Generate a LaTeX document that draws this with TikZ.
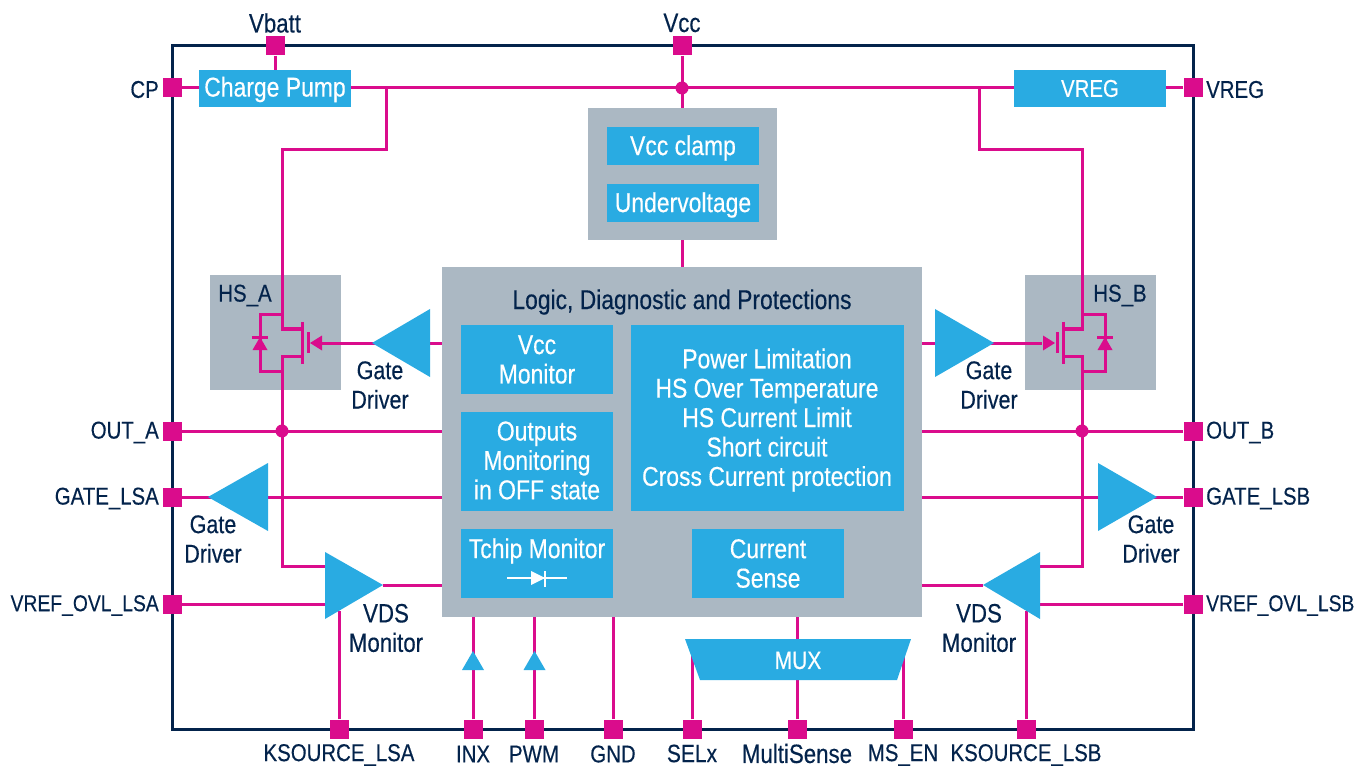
\documentclass[tikz,border=0pt]{standalone}
\usepackage{fontspec}
\setmainfont[FakeStretch=0.84,FakeBold=0.35]{Liberation Sans}
\definecolor{mag}{HTML}{DA0C8C}
\definecolor{cyanb}{HTML}{29ABE2}
\definecolor{greyb}{HTML}{ABB8C3}
\definecolor{navyb}{HTML}{03234B}
\tikzset{
 wire/.style={draw=mag,line width=3pt},
 thinw/.style={draw=mag,line width=3pt},
 bluebox/.style={fill=cyanb,text=white,inner sep=0pt,align=center,font=\fontsize{27.3}{29.4}\selectfont},
 bluetext/.style={text=white,inner sep=0pt,align=center,font=\fontsize{27.3}{29.4}\selectfont},
 greybox/.style={fill=greyb,inner sep=0pt},
 pinbox/.style={fill=mag,minimum width=19pt,minimum height=19pt,inner sep=0pt},
 lbl/.style={text=navyb,inner sep=0pt,align=center,font=\fontsize{26.5}{29.4}\selectfont},
 gatelbl/.style={text=navyb,inner sep=0pt,align=center,font=\fontsize{25.6}{29.4}\selectfont},
 caplbl/.style={text=navyb,inner sep=0pt,align=center,yshift=-1.5pt,font=\fontsize{24.3}{29.4}\selectfont},
 reflbl/.style={text=navyb,inner sep=0pt,align=center,yshift=-1.5pt,font=\fontsize{23}{29.4}\selectfont},
 dotn/.style={circle,fill=mag,minimum size=13pt,inner sep=0pt},
 tri/.style={fill=cyanb},
 mag tri/.style={fill=mag}
}
\begin{document}
\begin{tikzpicture}[x=1pt,y=-1pt]
\useasboundingbox (0,0) rectangle (1360,767);
% groups
\node[greybox,minimum width=189pt,minimum height=132pt] (grpv) at (682.5,174) {};
\node[greybox,minimum width=480pt,minimum height=350pt] (logic) at (682,442) {};
\node[greybox,minimum width=131pt,minimum height=115pt] (hsa) at (275.5,332.5) {};
\node[greybox,minimum width=131pt,minimum height=115pt] (hsb) at (1090.5,332.5) {};
% frame
\node[draw=navyb,line width=3pt,minimum width=1021pt,minimum height=683pt,inner sep=0pt] (frame) at (682.5,387.5) {};
% pins
\node[pinbox] (pVbatt) at (275,46) {};
\node[pinbox] (pVcc) at (682,46) {};
\node[pinbox] (pCP) at (172,88) {};
\node[pinbox] (pVREG) at (1193,88) {};
\node[pinbox] (pOA) at (172,431) {};
\node[pinbox] (pOB) at (1193,431) {};
\node[pinbox] (pGA) at (172,497) {};
\node[pinbox] (pGB) at (1193,497) {};
\node[pinbox] (pRA) at (172,604) {};
\node[pinbox] (pRB) at (1193,604) {};
\node[pinbox] (pKA) at (339,729) {};
\node[pinbox] (pINX) at (473,729) {};
\node[pinbox] (pPWM) at (534,729) {};
\node[pinbox] (pGND) at (613,729) {};
\node[pinbox] (pSEL) at (692,729) {};
\node[pinbox] (pMS) at (797,729) {};
\node[pinbox] (pEN) at (903,729) {};
\node[pinbox] (pKB) at (1026,729) {};
% blue boxes
\node[bluebox,minimum width=152pt,minimum height=37pt] (pump) at (275,88.5) {};
\node[bluetext] (pumpt) at (275,89.5) {Charge Pump};
\node[bluebox,minimum width=152pt,minimum height=37pt,font=\fontsize{24.3}{29}\selectfont] (vreg) at (1090,88.5) {VREG};
% coordinates
\coordinate (jA) at (386,88);
\coordinate (jB) at (979,88);
\coordinate (hA) at (282,150);
\coordinate (hB) at (1082,150);
\coordinate (dA1) at (282,329);
\coordinate (dA2) at (282,356);
\coordinate (dB1) at (1082,329);
\coordinate (dB2) at (1082,356);
\coordinate (vA) at (325,566);
\coordinate (vB) at (1040,566);
\coordinate (tgA) at (372,343);
\coordinate (tgB) at (994,343);
\coordinate (tlA) at (208,497);
\coordinate (tlB) at (1157,497);
\coordinate (tvA) at (383,585);
\coordinate (tvB) at (983,585);
\coordinate (rA) at (325,604);
\coordinate (rB) at (1040,604);
\coordinate (kA) at (339,611);
\coordinate (kB) at (1026,611);
\coordinate (sEL) at (692,655);
\coordinate (eN) at (903,655);
\node[dotn] (dotV) at (682,88) {};
\node[dotn] (dotA) at (282,431) {};
\node[dotn] (dotB) at (1082,431) {};
% wires
\draw[wire] (pVbatt) -- (pump.north -| pVbatt);
\draw[wire] (pCP) -- (pump.west |- pCP);
\draw[wire] (pVREG) -- (vreg.east |- pVREG);
\draw[wire] (pump.east |- jA) -- (vreg.west |- jA);
\draw[wire] (pVcc) -- (grpv.north -| pVcc);
\draw[wire] (grpv.south -| pVcc) -- (logic.north -| pVcc);
\draw[wire] (jA) |- (hA) -- (dA1) -- (302,329);
\draw[wire] (jB) |- (hB) -- (dB1) -- (1063,329);
\draw[wire] (vA) -| (dA2) -- (302,356);
\draw[wire] (vB) -| (dB2) -- (1063,356);
\draw[wire] (pOA) -- (logic.west |- pOA);
\draw[wire] (pOB) -- (logic.east |- pOB);
\draw[wire] (pGA) -- (logic.west |- pGA);
\draw[wire] (pGB) -- (logic.east |- pGB);
\draw[wire] (pRA) -- (rA);
\draw[wire] (pRB) -- (rB);
\draw[wire] (tvA) -- (logic.west |- tvA);
\draw[wire] (tvB) -- (logic.east |- tvB);
\draw[wire] (pKA) -- (kA);
\draw[wire] (pKB) -- (kB);
\draw[wire] (pINX) -- (logic.south -| pINX);
\draw[wire] (pPWM) -- (logic.south -| pPWM);
\draw[wire] (pGND) -- (logic.south -| pGND);
\draw[wire] (pSEL) -- (sEL);
\draw[wire] (pEN) -- (eN);
\draw[wire] (pMS) -- (logic.south -| pMS);
\draw[wire] (tgA) -- (logic.west |- tgA);
\draw[wire] (tgB) -- (logic.east |- tgB);
% gate wires to MOSFETs
\draw[wire] (tgA) -- (322,343);
\draw[wire] (tgB) -- (1042,343);
% MOSFET A
\draw[thinw] (302,322) -- (302,364);
\draw[thinw] (308,332) -- (308,353);
\fill[mag tri] (310,343) -- (322,335.5) -- (322,350.5) -- cycle;
\draw[thinw] (282,315) -| (260,371) -- (282,371);
\draw[thinw] (252,337) -- (268,337);
\fill[mag tri] (260,337) -- (267.5,350) -- (252.5,350) -- cycle;
% MOSFET B
\draw[thinw] (1063,322) -- (1063,364);
\draw[thinw] (1057,332) -- (1057,353);
\fill[mag tri] (1055,343) -- (1043,335.5) -- (1043,350.5) -- cycle;
\draw[thinw] (1082,315) -| (1105,371) -- (1082,371);
\draw[thinw] (1097,337) -- (1113,337);
\fill[mag tri] (1105,337) -- (1112.5,350) -- (1097.5,350) -- cycle;
% triangles
\fill[tri] (tgA) -- (430,309) -- (430,377) -- cycle;
\fill[tri] (tgB) -- (935,309) -- (935,377) -- cycle;
\fill[tri] (tlA) -- (268,463) -- (268,531) -- cycle;
\fill[tri] (tlB) -- (1098,463) -- (1098,531) -- cycle;
\fill[tri] (tvA) -- (325,552) -- (325,619) -- cycle;
\fill[tri] (tvB) -- (1040,552) -- (1040,619) -- cycle;
\fill[tri] (473,651) -- (484,670) -- (462,670) -- cycle;
\fill[tri] (534.5,651) -- (545.5,670) -- (523.5,670) -- cycle;
% inner boxes
\node[bluebox,minimum width=152pt,minimum height=38pt] (clamp) at (683,146) {};
\node[bluetext] (clampt) at (683,148) {Vcc clamp};
\node[bluebox,minimum width=152pt,minimum height=38pt] (uv) at (683,203) {};
\node[bluetext] (uvt) at (683,205) {Undervoltage};
\node[lbl,font=\fontsize{27.2}{29.4}\selectfont] (ltitle) at (682,302) {Logic, Diagnostic and Protections};
\node[bluebox,minimum width=152pt,minimum height=69pt] (vm) at (537,359.5) {Vcc\\Monitor};
\node[bluebox,minimum width=152pt,minimum height=99pt] (om) at (537,461.5) {};
\node[bluetext] (omt) at (537,460.5) {Outputs\\Monitoring\\in OFF state};
\node[bluebox,minimum width=152pt,minimum height=69pt] (tc) at (537,563.5) {};
\node[bluetext] (tct) at (537,551) {Tchip Monitor};
\node[bluebox,minimum width=273pt,minimum height=186pt] (pl) at (767.5,418) {};
\node[bluetext] (plt) at (767,420) {Power Limitation\\HS Over Temperature\\HS Current Limit\\Short circuit\\Cross Current protection};
\node[bluebox,minimum width=152pt,minimum height=69pt] (cs) at (768,563.5) {Current\\Sense};
% Tchip diode
\draw[white,line width=2.4pt] (507,578) -- (567,578);
\fill[white] (545,578) -- (531,571) -- (531,585) -- cycle;
\draw[white,line width=2.4pt] (545,571) -- (545,587);
% MUX
\fill[tri] (685,639) -- (911,639) -- (897,680) -- (700,680) -- cycle;
\node[caplbl,text=white,font=\fontsize{25}{29}\selectfont] (mux) at (798,659) {MUX};
% labels
\node[lbl] (lVbatt) at (275,23) {Vbatt};
\node[lbl] (lVcc) at (682,23) {Vcc};
\node[caplbl,anchor=east] (lCP) at (159,88) {CP};
\node[caplbl,anchor=west] (lVREG) at (1206,88) {VREG};
\node[caplbl,anchor=east] (lOA) at (159,431) {OUT\_A};
\node[caplbl,anchor=west] (lOB) at (1206,431) {OUT\_B};
\node[caplbl,anchor=east] (lGA) at (159,497) {GATE\_LSA};
\node[caplbl,anchor=west] (lGB) at (1206,497) {GATE\_LSB};
\node[reflbl,anchor=east] (lRA) at (159,604) {VREF\_OVL\_LSA};
\node[reflbl,anchor=west] (lRB) at (1206,604) {VREF\_OVL\_LSB};
\node[caplbl] (lKA) at (339,753.5) {KSOURCE\_LSA};
\node[caplbl] (lINX) at (473,752.5) {INX};
\node[caplbl] (lPWM) at (534,752.5) {PWM};
\node[caplbl] (lGND) at (613,752.5) {GND};
\node[gatelbl,font=\fontsize{25}{29}\selectfont] (lSEL) at (692,753.5) {SELx};
\node[lbl] (lMS) at (797,753.5) {MultiSense};
\node[caplbl] (lEN) at (903,753.5) {MS\_EN};
\node[caplbl] (lKB) at (1026,753.5) {KSOURCE\_LSB};
\node[caplbl] (lHA) at (245,294) {HS\_A};
\node[caplbl] (lHB) at (1120,294) {HS\_B};
\node[gatelbl] (gd1) at (380,385) {Gate\\Driver};
\node[gatelbl] (gd2) at (989,385) {Gate\\Driver};
\node[gatelbl] (gd3) at (213,539) {Gate\\Driver};
\node[gatelbl] (gd4) at (1151,539) {Gate\\Driver};
\node[lbl] (vd1) at (386,628) {VDS\\Monitor};
\node[lbl] (vd2) at (979,628) {VDS\\Monitor};
\end{tikzpicture}
\end{document}
